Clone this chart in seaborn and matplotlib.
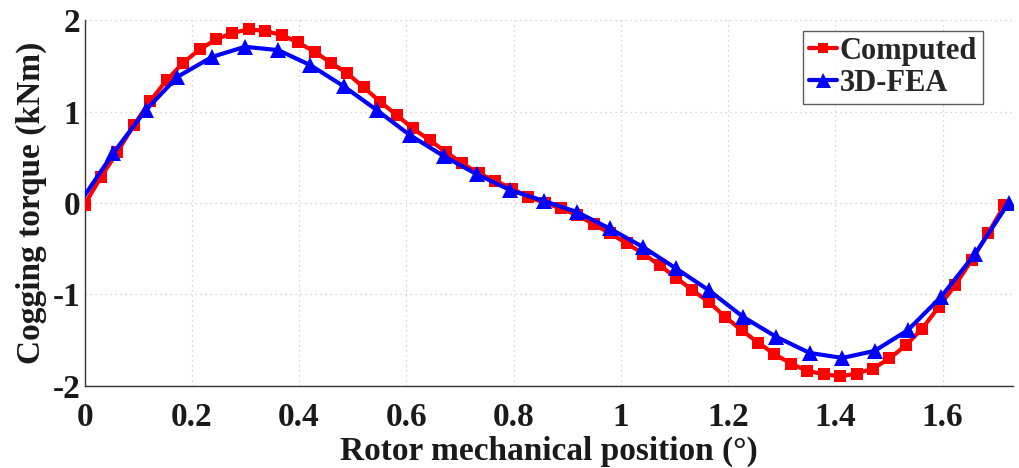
import matplotlib
matplotlib.use("Agg")
import matplotlib.pyplot as plt
import seaborn as sns
import numpy as np
import pandas as pd

# Computed cogging torque (kNm), red squares
x_comp = [i * 0.03063 for i in range(57)]
y_comp = [-0.02, 0.285, 0.558, 0.851, 1.117, 1.343, 1.533, 1.679, 1.789, 1.861,
          1.898, 1.883, 1.836, 1.756, 1.653, 1.533, 1.416, 1.263, 1.106, 0.960,
          0.814, 0.686, 0.558, 0.431, 0.322, 0.241, 0.157, 0.066, 0.0, -0.061,
          -0.135, -0.233, -0.335, -0.444, -0.554, -0.682, -0.817, -0.956, -1.084, -1.248,
          -1.394, -1.528, -1.656, -1.758, -1.839, -1.875, -1.897, -1.868, -1.813, -1.703,
          -1.558, -1.375, -1.138, -0.901, -0.627, -0.335, -0.025]

# 3D-FEA cogging torque (kNm), blue triangles
x_fea = [0.0, 0.053, 0.114, 0.173, 0.238, 0.299, 0.361, 0.421, 0.483, 0.545,
         0.607, 0.670, 0.732, 0.794, 0.856, 0.918, 0.979, 1.041, 1.103, 1.164,
         1.228, 1.290, 1.352, 1.413, 1.473, 1.535, 1.597, 1.661, 1.723]
y_fea = [0.08, 0.541, 1.015, 1.379, 1.598, 1.708, 1.672, 1.507, 1.277, 1.015,
         0.740, 0.511, 0.311, 0.139, 0.022, -0.100, -0.280, -0.482, -0.718, -0.956,
         -1.248, -1.467, -1.642, -1.697, -1.620, -1.394, -1.029, -0.554, 0.0]

x_ticks = [0, 0.2, 0.4, 0.6, 0.8, 1.0, 1.2, 1.4, 1.6]
x_tick_labels = ["0", "0.2", "0.4", "0.6", "0.8", "1", "1.2", "1.4", "1.6"]
y_ticks = [-2, -1, 0, 1, 2]
y_tick_labels = ["-2", "-1", "0", "1", "2"]

sns.set_theme(style="white")
plt.rcParams["font.family"] = ["Liberation Serif", "DejaVu Serif"]
plt.rcParams["font.weight"] = "bold"

df_comp = pd.DataFrame({"x": x_comp, "y": y_comp})
df_fea = pd.DataFrame({"x": x_fea, "y": y_fea})

fig, ax = plt.subplots(figsize=(10.19, 4.68), dpi=100)
fig.subplots_adjust(left=0.083, right=0.994, bottom=0.176, top=0.957)

sns.lineplot(data=df_comp, x="x", y="y", ax=ax, color="#ff0000", linewidth=3.0,
             marker="s", markersize=8.5, markeredgewidth=0, label="Computed",
             sort=False, zorder=3)
sns.lineplot(data=df_fea, x="x", y="y", ax=ax, color="#0000ff", linewidth=3.0,
             marker="^", markersize=12, markeredgewidth=0, label="3D-FEA",
             sort=False, markevery=list(range(1, len(x_fea))), zorder=4)

ax.set_xlim(0, 1.731)
ax.set_ylim(-2, 2)
ax.set_xticks(x_ticks)
ax.set_xticklabels(x_tick_labels, fontsize=24, fontweight="bold")
ax.set_yticks(y_ticks)
ax.set_yticklabels(y_tick_labels, fontsize=24, fontweight="bold")
ax.tick_params(axis="both", direction="in", length=9, width=1.0, color="#333333",
               labelcolor="#1a1a1a")
ax.tick_params(axis="x", pad=12)
ax.tick_params(axis="y", pad=3)

ax.grid(True, linestyle=(0, (1, 3)), color="#c8c8c8", linewidth=0.9)
for side in ["top", "right"]:
    ax.spines[side].set_visible(False)
for side in ["left", "bottom"]:
    ax.spines[side].set_color("#333333")
    ax.spines[side].set_linewidth(1.0)

ax.set_xlabel("Rotor mechanical position (°)", fontsize=24, fontweight="bold",
              color="#1a1a1a", labelpad=2)
ax.set_ylabel("Cogging torque (kNm)", fontsize=24, fontweight="bold",
              color="#1a1a1a", labelpad=4)

leg = ax.legend(loc="upper right", bbox_to_anchor=(0.968, 0.971), fontsize=22,
                frameon=True, fancybox=False, handlelength=0.9, handletextpad=0.1,
                borderpad=0.2, labelspacing=0.1, borderaxespad=0.0,
                markerscale=0.9)
leg.get_frame().set_edgecolor("#333333")
leg.get_frame().set_linewidth(1.0)
for t in leg.get_texts():
    t.set_fontweight("bold")

fig.savefig("out.png", dpi=100)
